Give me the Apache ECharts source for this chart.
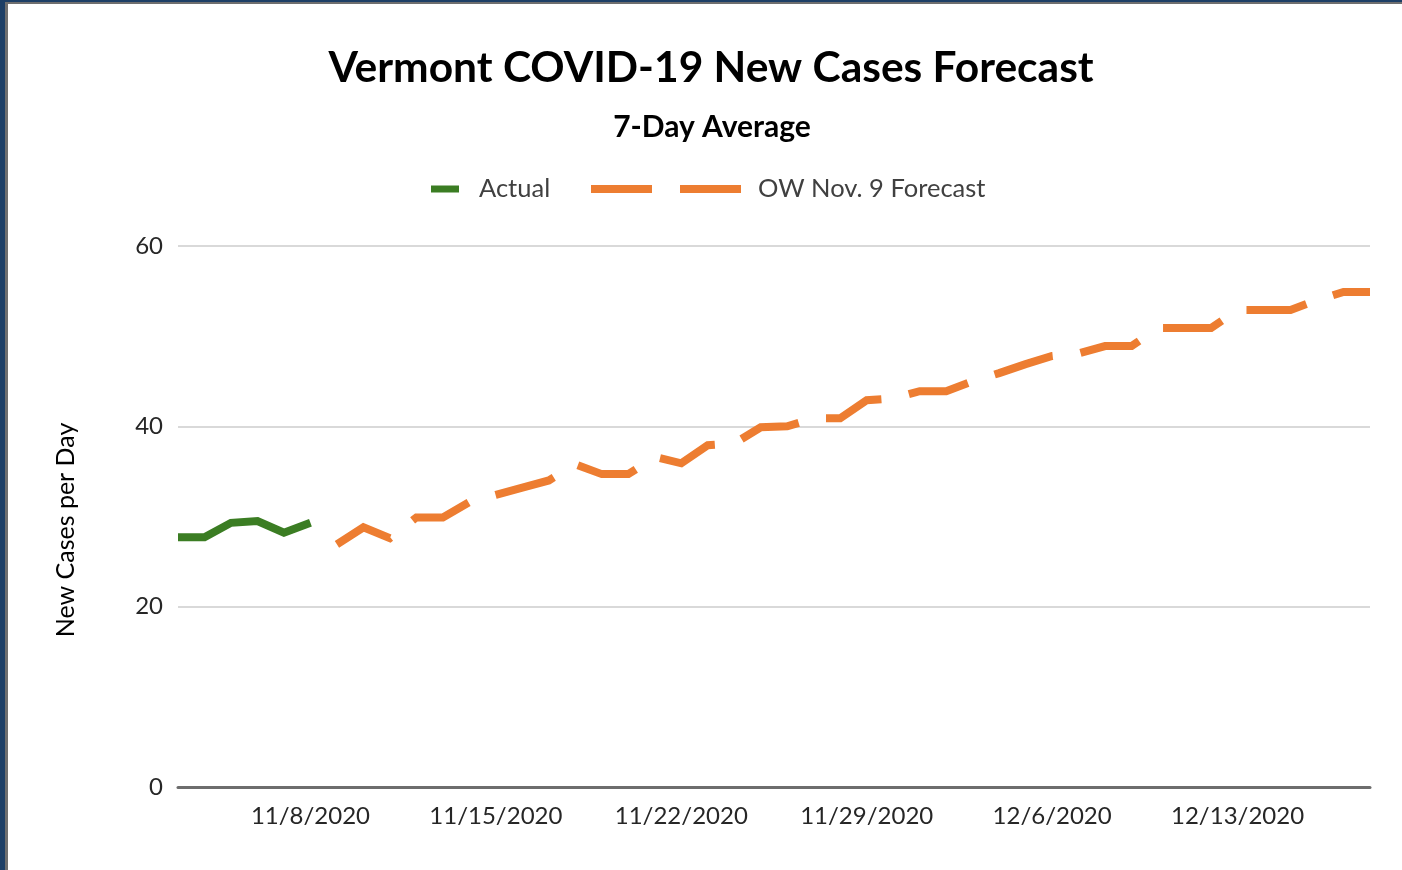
<!DOCTYPE html>
<html>
<head>
<meta charset="utf-8">
<script src="https://cdn.jsdelivr.net/npm/echarts@6/dist/echarts.min.js"></script>
<style>
html,body{margin:0;padding:0;background:#fff;}
#chart{width:1402px;height:870px;}
</style>
</head>
<body>
<div id="chart"></div>
<script>
const dates = [
  '11/3/2020','11/4/2020','11/5/2020','11/6/2020','11/7/2020','11/8/2020',
  '11/9/2020','11/10/2020','11/11/2020','11/12/2020','11/13/2020','11/14/2020','11/15/2020',
  '11/16/2020','11/17/2020','11/18/2020','11/19/2020','11/20/2020','11/21/2020','11/22/2020',
  '11/23/2020','11/24/2020','11/25/2020','11/26/2020','11/27/2020','11/28/2020','11/29/2020',
  '11/30/2020','12/1/2020','12/2/2020','12/3/2020','12/4/2020','12/5/2020','12/6/2020',
  '12/7/2020','12/8/2020','12/9/2020','12/10/2020','12/11/2020','12/12/2020','12/13/2020',
  '12/14/2020','12/15/2020','12/16/2020','12/17/2020','12/18/2020'
];
const tickLabels = ['11/8/2020','11/15/2020','11/22/2020','11/29/2020','12/6/2020','12/13/2020'];
const actual = [27.7, 27.7, 29.3, 29.5, 28.2, 29.3];
const forecast = [
  26.9, 28.8, 27.6, 29.9, 29.9, 31.6, 32.4,
  33.2, 34.0, 35.8, 34.7, 34.7, 36.6, 35.9,
  37.9, 38.1, 39.9, 40.0, 40.9, 40.9, 42.9,
  43.1, 43.9, 43.9, 45.0, 45.9, 46.9, 47.8,
  48.1, 48.9, 48.9, 50.9, 50.9, 50.9, 52.9,
  52.9, 52.9, 54.0, 54.9, 54.9
];
const yTicks = [0, 20, 40, 60];

const actualSeries = dates.map((d, i) => i < actual.length ? actual[i] : null);
const forecastStart = dates.length - forecast.length;
const forecastSeries = dates.map((d, i) => i >= forecastStart ? forecast[i - forecastStart] : null);

const FONT = 'Lato';
const chart = echarts.init(document.getElementById('chart'), null, {renderer: 'canvas'});
chart.setOption({
  backgroundColor: '#ffffff',
  animation: false,
  textStyle: {fontFamily: FONT},
  title: [
    {text: 'Vermont COVID-19 New Cases Forecast', left: 711, textAlign: 'center', top: 45, padding: 0,
     textStyle: {fontFamily: FONT, fontWeight: 'bold', fontSize: 42.5, color: '#000', lineHeight: 46}},
    {text: '7-Day Average', left: 712, textAlign: 'center', top: 111, padding: 0,
     textStyle: {fontFamily: FONT, fontWeight: 'bold', fontSize: 30, color: '#000', lineHeight: 32}}
  ],
  legend: [
    {data: [{name: 'Actual', icon: 'path://M0,0H28V7H0Z'}], left: 431, top: 176, padding: 0,
     itemWidth: 28, itemHeight: 7, itemGap: 0,
     textStyle: {fontFamily: FONT, fontSize: 25.5, color: '#404040', padding: [0, 0, 0, 15], lineHeight: 26}},
    {data: [{name: 'OW Nov. 9 Forecast', icon: 'path://M0,0H61V8H0Z M89,0H150V8H89Z'}], left: 591, top: 176, padding: 0,
     itemWidth: 150, itemHeight: 8, itemGap: 0,
     textStyle: {fontFamily: FONT, fontSize: 25.5, color: '#404040', padding: [0, 0, 0, 12], lineHeight: 26}}
  ],
  grid: {left: 178, right: 32, top: 246, bottom: 83, containLabel: false},
  xAxis: {
    type: 'category',
    data: dates,
    boundaryGap: false,
    axisLine: {show: true, lineStyle: {color: '#6d6d6d', width: 3}},
    axisTick: {show: false},
    axisLabel: {
      interval: (idx, val) => tickLabels.indexOf(val) >= 0,
      fontFamily: FONT, fontSize: 24, color: '#262626', margin: 17
    },
    splitLine: {show: false}
  },
  yAxis: {
    type: 'value',
    min: yTicks[0], max: yTicks[yTicks.length - 1], interval: 20,
    name: 'New Cases per Day',
    nameLocation: 'middle',
    nameGap: 100,
    nameRotate: 90,
    nameTextStyle: {fontFamily: FONT, fontSize: 25, color: '#000', padding: [0, 27, 0, 0]},
    axisLine: {show: false},
    axisTick: {show: false},
    axisLabel: {fontFamily: FONT, fontSize: 24, color: '#262626', margin: 15},
    splitLine: {lineStyle: {color: '#d9d9d9', width: 2}}
  },
  series: [
    {name: 'Actual', type: 'line', data: actualSeries, showSymbol: false, symbol: 'none',
     itemStyle: {color: '#3b7d23'},
     lineStyle: {color: '#3b7d23', width: 8, cap: 'butt', join: 'miter'}, z: 3},
    {name: 'OW Nov. 9 Forecast', type: 'line', data: forecastSeries, showSymbol: false, symbol: 'none',
     itemStyle: {color: '#ed7d31'},
     lineStyle: {color: '#ed7d31', width: 8, type: [61, 28], cap: 'butt', join: 'miter'}, z: 2}
  ],
  graphic: [
    {type: 'rect', shape: {x: 0, y: 0, width: 5, height: 870}, style: {fill: '#1d3f66'}, silent: true, z: 100},
    {type: 'rect', shape: {x: 5, y: 0, width: 3, height: 870}, style: {fill: '#6f6f6f'}, silent: true, z: 100},
    {type: 'rect', shape: {x: 0, y: 0, width: 1402, height: 2}, style: {fill: '#1d3f66'}, silent: true, z: 100},
    {type: 'rect', shape: {x: 5, y: 2, width: 1397, height: 2}, style: {fill: '#6f6f6f'}, silent: true, z: 100}
  ]
});
</script>
</body>
</html>
